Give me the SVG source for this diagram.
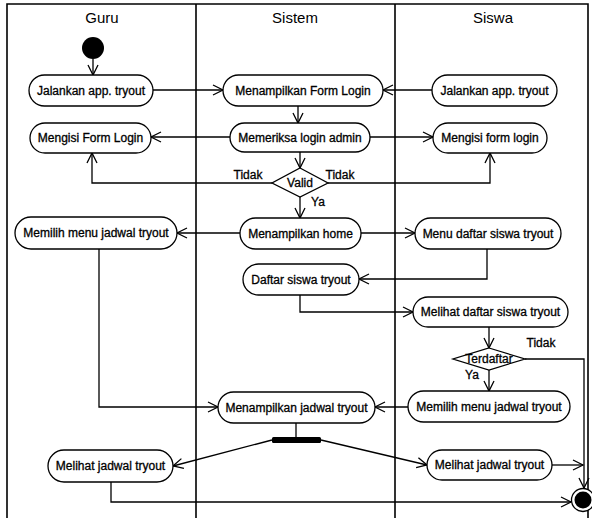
<svg xmlns="http://www.w3.org/2000/svg" width="592" height="518" viewBox="0 0 592 518">
  <style>
    .lane { stroke: #000; stroke-width: 1.6; fill: none; }
    .act rect { fill: #fff; stroke: #000; stroke-width: 1.3; }
    .act text, .lbl, .dec text { font-family: "Liberation Sans", Arial, sans-serif; font-size: 12px; fill: #000; stroke: #000; stroke-width: 0.3; text-anchor: middle; }
    .hdr { font-family: "Liberation Sans", Arial, sans-serif; font-size: 15px; fill: #000; text-anchor: middle; }
    .dec polygon { fill: #fff; stroke: #000; stroke-width: 1.3; }
    .edge { stroke: #000; stroke-width: 1.3; fill: none; marker-end: url(#arr); }
    .plain { stroke: #000; stroke-width: 1.3; fill: none; }
  </style>
  <defs>
    <marker id="arr" markerUnits="userSpaceOnUse" markerWidth="14" markerHeight="14" refX="11" refY="6" orient="auto">
      <path d="M1,1 L11,6 L1,11" fill="none" stroke="#000" stroke-width="1.3"/>
    </marker>
  </defs>

  <rect width="592" height="518" fill="#fff"/>

  <!-- swimlanes -->
  <g id="lanes">
    <path class="lane" d="M7,518 V4 H588 V518 M196,4 V518 M395,4 V518"/>
    <text class="hdr" x="102" y="23">Guru</text>
    <text class="hdr" x="295" y="23">Sistem</text>
    <text class="hdr" x="493" y="23">Siswa</text>
  </g>

  <!-- connectors -->
  <g id="connectors">
    <path class="edge" d="M93,59 V75"/>
    <path class="edge" d="M153,90 H223"/>
    <path class="edge" d="M432,90 H383"/>
    <path class="edge" d="M298,106 V123"/>
    <path class="edge" d="M230,137 H151"/>
    <path class="edge" d="M370,137 H433"/>
    <path class="edge" d="M300,152 V168"/>
    <path class="edge" d="M272,183 H92 V153"/>
    <path class="edge" d="M328,183 H490 V153"/>
    <path class="edge" d="M300,197 V218"/>
    <path class="edge" d="M240,233 H177"/>
    <path class="edge" d="M361,233 H415"/>
    <path class="edge" d="M487,249 V279 H359"/>
    <path class="edge" d="M300,295 V312 H413"/>
    <path class="edge" d="M489,327 V348"/>
    <path class="edge" d="M489,370 V391"/>
    <path class="edge" d="M525,359 H584 V488"/>
    <path class="edge" d="M408,407 H375"/>
    <path class="edge" d="M99,249 V407 H218"/>
    <path class="plain" d="M296,423 V437"/>
    <path class="edge" d="M272,440 L173,466"/>
    <path class="edge" d="M321,440 L427,465"/>
    <path class="edge" d="M552,465 H583"/>
    <path class="edge" d="M111,482 V502 H571"/>
    <text class="lbl" x="248" y="179">Tidak</text>
    <text class="lbl" x="340" y="179">Tidak</text>
    <text class="lbl" x="318" y="206">Ya</text>
    <text class="lbl" x="541" y="347">Tidak</text>
    <text class="lbl" x="472" y="379">Ya</text>
  </g>

  <!-- start / end -->
  <g id="start"><circle cx="93" cy="48" r="11" fill="#000"/></g>
  <g id="end">
    <circle cx="583" cy="500" r="11.5" fill="#fff" stroke="#000" stroke-width="1.3"/>
    <circle cx="583" cy="500" r="8.5" fill="#000"/>
  </g>

  <!-- Guru -->
  <g id="g-jalankan" class="act"><rect x="29" y="75" width="124" height="31" rx="15.5"/><text x="91" y="95">Jalankan app. tryout</text></g>
  <g id="g-mengisi" class="act"><rect x="30" y="123" width="121" height="30" rx="15"/><text x="90.5" y="142">Mengisi Form Login</text></g>
  <g id="g-memilih" class="act"><rect x="15" y="217" width="162" height="32" rx="16"/><text x="96" y="237">Memilih menu jadwal tryout</text></g>
  <g id="g-melihat" class="act"><rect x="48" y="450" width="125" height="32" rx="16"/><text x="110.5" y="470">Melihat jadwal tryout</text></g>

  <!-- Sistem -->
  <g id="s-form" class="act"><rect x="223" y="75" width="160" height="31" rx="15.5"/><text x="303" y="95">Menampilkan Form Login</text></g>
  <g id="s-periksa" class="act"><rect x="230" y="123" width="140" height="29" rx="14.5"/><text x="300" y="142">Memeriksa login admin</text></g>
  <g id="s-valid" class="dec"><polygon points="300,168 328,183 300,197 272,183"/><text x="300" y="187">Valid</text></g>
  <g id="s-home" class="act"><rect x="240" y="218" width="121" height="31" rx="15.5"/><text x="300.5" y="238">Menampilkan home</text></g>
  <g id="s-daftar" class="act"><rect x="243" y="264" width="116" height="31" rx="15.5"/><text x="301" y="284">Daftar siswa tryout</text></g>
  <g id="s-jadwal" class="act"><rect x="218" y="392" width="157" height="31" rx="15.5"/><text x="296.5" y="412">Menampilkan jadwal tryout</text></g>
  <g id="s-fork"><rect x="272" y="437" width="49" height="6" rx="1.5" fill="#000"/></g>

  <!-- Siswa -->
  <g id="w-jalankan" class="act"><rect x="432" y="75" width="125" height="31" rx="15.5"/><text x="494.5" y="95">Jalankan app. tryout</text></g>
  <g id="w-mengisi" class="act"><rect x="433" y="123" width="114" height="30" rx="15"/><text x="490" y="142">Mengisi form login</text></g>
  <g id="w-menu" class="act"><rect x="415" y="218" width="146" height="31" rx="15.5"/><text x="488" y="238">Menu daftar siswa tryout</text></g>
  <g id="w-lihat" class="act"><rect x="413" y="297" width="155" height="30" rx="15"/><text x="490.5" y="316">Melihat daftar siswa tryout</text></g>
  <g id="w-terdaftar" class="dec"><polygon points="489,348 525,359 489,370 453,359"/><text x="489" y="363">Terdaftar</text></g>
  <g id="w-memilih" class="act"><rect x="408" y="391" width="162" height="31" rx="15.5"/><text x="489" y="411">Memilih menu jadwal tryout</text></g>
  <g id="w-melihat" class="act"><rect x="427" y="450" width="125" height="30" rx="15"/><text x="489.5" y="469">Melihat jadwal tryout</text></g>
</svg>
